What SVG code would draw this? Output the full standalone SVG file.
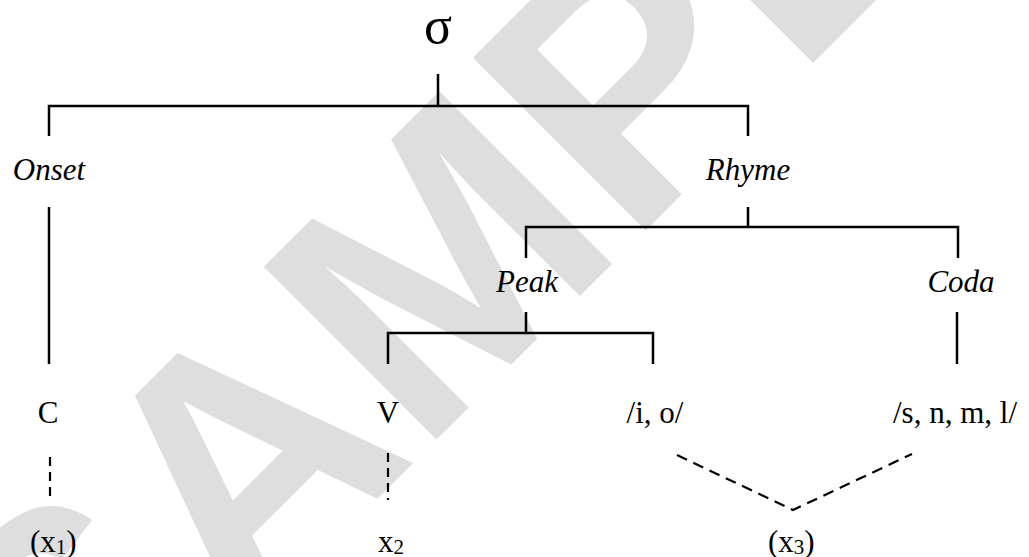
<svg xmlns="http://www.w3.org/2000/svg" width="1029" height="557" viewBox="0 0 1029 557">
<style>
.t{font-family:"Liberation Serif","Times New Roman",serif;font-size:31px;fill:#000;text-anchor:middle}
.i{font-style:italic}
.s{text-anchor:start}
.ln{stroke:#000;stroke-width:2.5;fill:none;stroke-linecap:butt}
.d{stroke:#000;stroke-width:2.2;fill:none;stroke-dasharray:9 6}
.dd{stroke:#000;stroke-width:2.2;fill:none;stroke-dasharray:11 7}
.wm{font-family:"Liberation Sans",Arial,sans-serif;font-weight:bold;font-size:355px;fill:#dedede}
</style>
<rect width="1029" height="557" fill="#fff"/>
<g id="watermark">
<text class="wm" x="71" y="805" transform="rotate(-45 71 805)">SAMPLE</text>
</g>
<g id="connectors">
<path class="ln" d="M438 74V106M49 136V106H748V136"/>
<path class="ln" d="M49 207V364"/>
<path class="ln" d="M748 207V227M526 258V227H958V258"/>
<path class="ln" d="M526 312V333M388 364V333H653V364"/>
<path class="ln" d="M957 312V364"/>
<path class="d" d="M50 457V502"/>
<path class="d" d="M388 453V500"/>
<path class="dd" d="M677 455L793 510L912 454"/>
</g>
<g id="sigma"><text class="t" x="438" y="43" style="font-size:52px">σ</text></g>
<g id="onset"><text class="t i" x="49" y="180">Onset</text></g>
<g id="rhyme"><text class="t i" x="748" y="180">Rhyme</text></g>
<g id="peak"><text class="t i" x="527" y="292">Peak</text></g>
<g id="coda"><text class="t i" x="961" y="292">Coda</text></g>
<g id="c"><text class="t" x="48" y="423">C</text></g>
<g id="v"><text class="t" x="388" y="423">V</text></g>
<g id="io"><text class="t" x="655" y="423">/i, o/</text></g>
<g id="snml"><text class="t" x="955" y="423">/s, n, m, l/</text></g>
<g id="x1"><text class="t s" x="30" y="552">(x<tspan style="font-size:21px" dy="2">1</tspan><tspan dy="-2">)</tspan></text></g>
<g id="x2"><text class="t s" x="378" y="552">x<tspan style="font-size:21px" dy="2">2</tspan></text></g>
<g id="x3"><text class="t s" x="768" y="552">(x<tspan style="font-size:21px" dy="2">3</tspan><tspan dy="-2">)</tspan></text></g>
</svg>
